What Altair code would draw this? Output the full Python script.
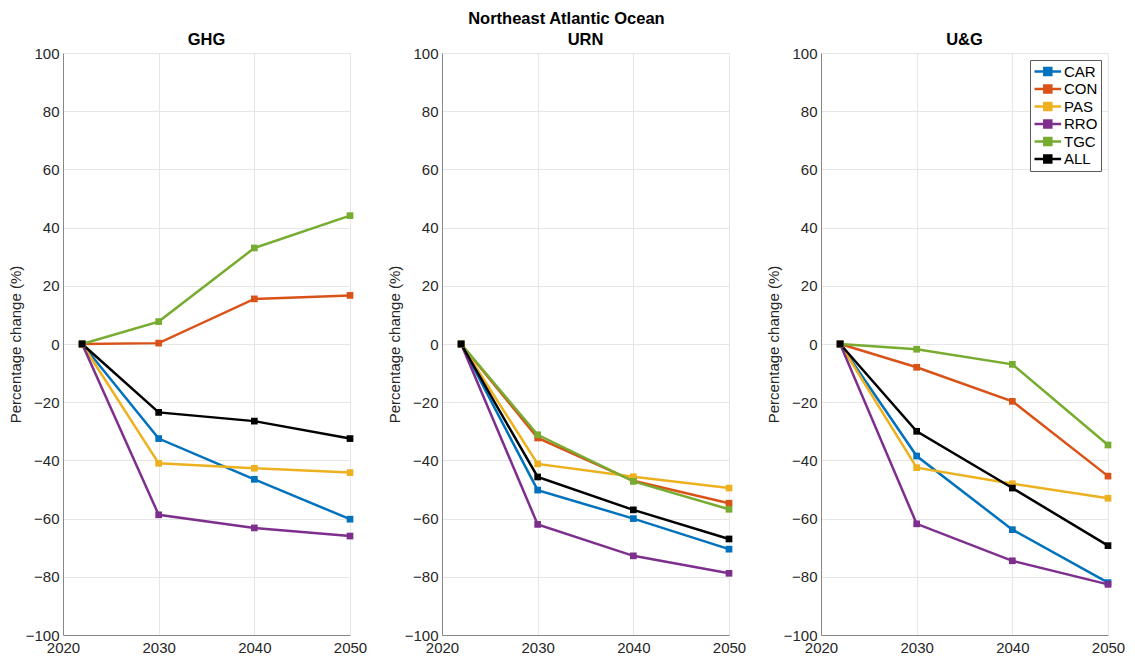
import altair as alt
import pandas as pd

years = [2022, 2030, 2040, 2050]
series = ["CAR", "CON", "PAS", "RRO", "TGC", "ALL"]
colors = ["#0072BD", "#D95319", "#EDB120", "#7E2F8E", "#77AC30", "#000000"]
panels = ["GHG", "URN", "U&G"]

GHG = {
    "CAR": [0, -32.5, -46.5, -60.2],
    "CON": [0, 0.3, 15.5, 16.7],
    "PAS": [0, -41.0, -42.7, -44.2],
    "RRO": [0, -58.7, -63.2, -66.0],
    "TGC": [0, 7.7, 33.0, 44.1],
    "ALL": [0, -23.5, -26.5, -32.5],
}
URN = {
    "CAR": [0, -50.2, -60.0, -70.5],
    "CON": [0, -32.3, -47.0, -54.7],
    "PAS": [0, -41.2, -45.6, -49.5],
    "RRO": [0, -62.0, -72.8, -78.8],
    "TGC": [0, -31.2, -47.2, -56.8],
    "ALL": [0, -45.7, -57.0, -67.0],
}
UG = {
    "CAR": [0, -38.5, -63.8, -82.0],
    "CON": [0, -8.0, -19.7, -45.4],
    "PAS": [0, -42.5, -48.0, -53.0],
    "RRO": [0, -61.8, -74.5, -82.6],
    "TGC": [0, -1.8, -7.0, -34.7],
    "ALL": [0, -30.0, -49.5, -69.3],
}
panel_data = {"GHG": GHG, "URN": URN, "U&G": UG}

FONT = "Liberation Sans"
AX = "#262626"
GRID = "#e6e6e6"

color_scale = alt.Scale(domain=series, range=colors)


def panel(name, show_legend):
    rows = []
    for s in series:
        for yr, v in zip(years, panel_data[name][s]):
            rows.append({"series": s, "year": yr, "value": v})
    df = pd.DataFrame(rows)
    if show_legend:
        legend = alt.Legend(
            title=None,
            orient="top-right",
            offset=7,
            padding=3,
            strokeColor="#5a5a5a",
            fillColor="white",
            labelFont=FONT,
            labelFontSize=15,
            labelColor="black",
            rowPadding=0.5,
            labelOffset=14,
            symbolType="M-1,0L2.8,0M0.4,-0.5H1.4V0.5H0.4Z",
            symbolSize=196,
            symbolStrokeWidth=2.5,
        )
    else:
        legend = None
    x = alt.X(
        "year:Q",
        scale=alt.Scale(domain=[2020, 2050], nice=False),
        axis=alt.Axis(
            values=[2020, 2030, 2040, 2050],
            format="d",
            title=None,
            labelFlush=False,
            labelOverlap=False,
            labelPadding=5,
        ),
    )
    y = alt.Y(
        "value:Q",
        scale=alt.Scale(domain=[-100, 100], nice=False),
        axis=alt.Axis(
            values=list(range(-100, 101, 20)),
            title="Percentage change (%)",
            labelPadding=4,
            titlePadding=2,
        ),
    )
    base = alt.Chart(df)
    line = base.mark_line(strokeWidth=2.5).encode(
        x=x,
        y=y,
        color=alt.Color("series:N", scale=color_scale, legend=legend, sort=series),
        detail="series:N",
    )
    pts = base.mark_point(shape="square", filled=True, size=45, opacity=1).encode(
        x=x,
        y=y,
        color=alt.Color("series:N", scale=color_scale, legend=None, sort=series),
    )
    return alt.layer(line, pts).properties(
        width=287,
        height=582,
        title=alt.TitleParams(name, fontSize=16.5, font=FONT, fontWeight="bold", color="black", offset=-2),
    )


chart = (
    alt.hconcat(panel("GHG", False), panel("URN", False), panel("U&G", True), spacing=20)
    .resolve_legend(color="independent")
    .properties(
        padding={"left": 0, "right": 0, "top": 3, "bottom": 0},
        title=alt.TitleParams(
            "Northeast Atlantic Ocean",
            fontSize=16.5,
            font=FONT,
            fontWeight="bold",
            color="black",
            anchor="middle",
            offset=4,
        ),
    )
    .configure_view(stroke=None)
    .configure_axis(
        labelFont=FONT,
        labelFontSize=15,
        labelColor=AX,
        titleFont=FONT,
        titleFontSize=15,
        titleFontWeight="normal",
        titleColor=AX,
        domainColor="#888888",
        domainWidth=1,
        ticks=False,
        gridColor=GRID,
        gridWidth=1,
    )
)

chart.save("out.html", embed_options={"renderer": "svg", "actions": False})
